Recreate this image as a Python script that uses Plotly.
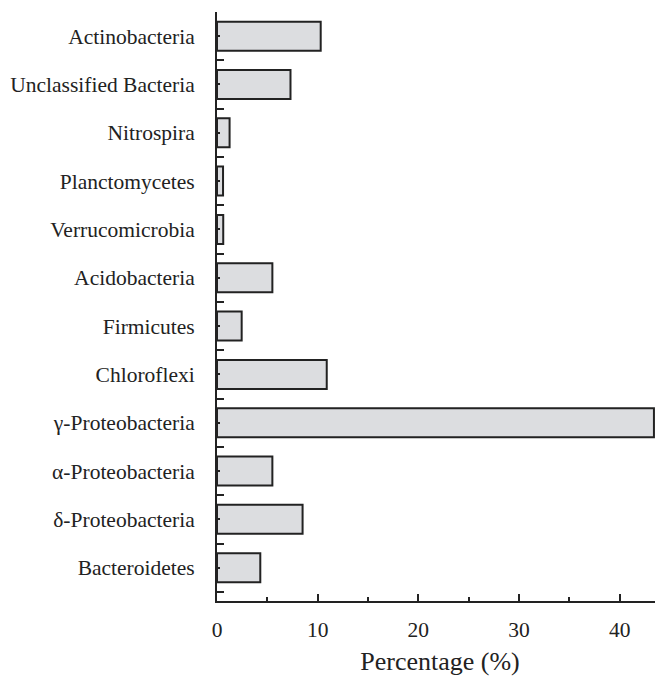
import plotly.graph_objects as go

categories = ["Bacteroidetes", "δ-Proteobacteria", "α-Proteobacteria", "γ-Proteobacteria",
              "Chloroflexi", "Firmicutes", "Acidobacteria", "Verrucomicrobia",
              "Planctomycetes", "Nitrospira", "Unclassified Bacteria", "Actinobacteria"]
values = [4.3, 8.5, 5.5, 43.4, 10.9, 2.45, 5.5, 0.62, 0.6, 1.25, 7.3, 10.3]
x_ticks = [0, 10, 20, 30, 40]

positions = list(range(len(categories)))

fig = go.Figure(go.Bar(
    x=values, y=positions, orientation="h", width=0.6,
    marker=dict(color="#dcdde0", line=dict(color="#222222", width=2)),
))

font = dict(family="Liberation Serif", size=21.5, color="#222222")
fig.update_layout(
    width=655, height=668,
    margin=dict(l=209, r=0, t=4, b=73),
    plot_bgcolor="white", paper_bgcolor="white",
    font=font, showlegend=False,
)
fig.update_xaxes(
    range=[0, 44.3], tickvals=x_ticks, ticks="inside", ticklen=7, tickwidth=1.5,
    tickcolor="#222222", showline=True, linecolor="#222222", linewidth=2,
    showgrid=False, zeroline=False, ticklabelstandoff=8,
    minor=dict(tickvals=[5, 15, 25, 35], ticks="inside", ticklen=4, tickwidth=1.5, tickcolor="#222222"),
    title=dict(text="Percentage (%)", standoff=16),
)
fig.update_yaxes(
    range=[-0.69, 11.5], tickvals=positions, ticktext=categories,
    ticks="inside", ticklen=3, tickwidth=1.5, tickcolor="#222222",
    showline=True, linecolor="#222222", linewidth=2, showgrid=False, zeroline=False,
    ticklabelstandoff=16,
    minor=dict(tickvals=[p - 0.5 for p in positions] + [len(positions) - 0.5], ticks="inside",
               ticklen=7, tickwidth=1.5, tickcolor="#222222"),
)
fig.write_html("out.html")
